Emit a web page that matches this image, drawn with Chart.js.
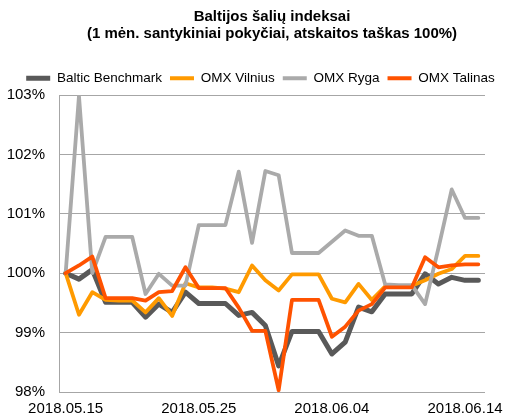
<!DOCTYPE html>
<html>
<head>
<meta charset="utf-8">
<script src="https://cdn.jsdelivr.net/npm/chart.js@4/dist/chart.umd.min.js"></script>
<style>
  html, body { margin: 0; padding: 0; background: #fff; }
  #wrap { width: 507px; height: 419px; position: relative; }
</style>
</head>
<body>
<div id="wrap"><canvas id="chart"></canvas></div>
<script>
const titleLines = ['Baltijos šalių indeksai', '(1 mėn. santykiniai pokyčiai, atskaitos taškas 100%)'];

const dates = [
  '2018.05.15', '2018.05.16', '2018.05.17', '2018.05.18', '2018.05.19', '2018.05.20', '2018.05.21', '2018.05.22',
  '2018.05.23', '2018.05.24', '2018.05.25', '2018.05.26', '2018.05.27', '2018.05.28', '2018.05.29', '2018.05.30',
  '2018.05.31', '2018.06.01', '2018.06.02', '2018.06.03', '2018.06.04', '2018.06.05', '2018.06.06', '2018.06.07',
  '2018.06.08', '2018.06.09', '2018.06.10', '2018.06.11', '2018.06.12', '2018.06.13', '2018.06.14', '2018.06.15'
];
const tickDates = ['2018.05.15', '2018.05.25', '2018.06.04', '2018.06.14'];
const yTicks = [98, 99, 100, 101, 102, 103];

const balticBenchmark = [100, 99.90, 100.06, 99.51, 99.51, 99.51, 99.26, 99.48, 99.34, 99.68, 99.49, 99.49, 99.49, 99.29, 99.34, 99.12,
  98.44, 99.02, 99.02, 99.02, 98.64, 98.84, 99.43, 99.35, 99.65, 99.65, 99.65, 99.99, 99.82, 99.93, 99.88, 99.88];
const omxVilnius = [100, 99.30, 99.68, 99.55, 99.54, 99.54, 99.34, 99.58, 99.28, 99.83, 99.76, 99.76, 99.74, 99.68, 100.13, 99.88,
  99.71, 99.98, 99.98, 99.98, 99.57, 99.51, 99.82, 99.55, 99.78, 99.78, 99.79, 99.88, 99.99, 100.07, 100.29, 100.29];
const omxRyga = [100, 102.98, 100.0, 100.61, 100.61, 100.61, 99.65, 99.99, 99.79, 99.79, 100.81, 100.81, 100.81, 101.71, 100.51, 101.72,
  101.65, 100.34, 100.34, 100.34, 100.53, 100.72, 100.63, 100.63, 99.81, 99.80, 99.80, 99.48, 100.42, 101.41, 100.93, 100.93];
const omxTalinas = [100, 100.13, 100.28, 99.58, 99.58, 99.58, 99.54, 99.68, 99.70, 100.10, 99.75, 99.75, 99.75, 99.42, 99.03, 99.03,
  98.03, 99.55, 99.55, 99.55, 98.93, 99.10, 99.37, 99.48, 99.76, 99.76, 99.76, 100.27, 100.10, 100.13, 100.15, 100.15];

const FONT = '"Liberation Sans", Arial, sans-serif';

// title centred over the plot area, like the original
const titlePlugin = {
  id: 'plotTitle',
  afterLayout(chart) {
    // legend sits a little right of the canvas centre in the original
    chart.legend.left += 7;
    chart.legend.right += 7;
  },
  afterDraw(chart) {
    const ctx = chart.ctx;
    const area = chart.chartArea;
    const cx = (area.left + area.right) / 2;
    ctx.save();
    ctx.font = 'bold 15px ' + FONT;
    ctx.fillStyle = '#000';
    ctx.textAlign = 'center';
    ctx.textBaseline = 'middle';
    titleLines.forEach((line, i) => ctx.fillText(line, cx, 17 + i * 17));
    ctx.restore();
  }
};

function series(label, data, color, width, order) {
  return {
    label: label,
    data: data,
    borderColor: color,
    backgroundColor: color,
    borderWidth: width,
    pointRadius: 0,
    pointHoverRadius: 0,
    tension: 0,
    borderJoinStyle: 'round',
    borderCapStyle: 'round',
    order: order
  };
}

new Chart(document.getElementById('chart'), {
  type: 'line',
  data: {
    labels: dates,
    datasets: [
      series('Baltic Benchmark', balticBenchmark, '#595959', 5, 3),
      series('OMX Vilnius', omxVilnius, '#ff9a00', 3.8, 2),
      series('OMX Ryga', omxRyga, '#aaaaaa', 3.8, 1),
      series('OMX Talinas', omxTalinas, '#ff5200', 3.8, 0)
    ]
  },
  options: {
    responsive: true,
    maintainAspectRatio: false,
    animation: false,
    layout: { padding: { top: 53, left: 0, right: 0, bottom: 0 } },
    plugins: {
      title: { display: false },
      tooltip: { enabled: false },
      legend: {
        display: true,
        position: 'top',
        labels: {
          usePointStyle: true,
          pointStyle: 'line',
          pointStyleWidth: 24,
          boxHeight: 5,
          padding: 8,
          color: '#000',
          font: { family: FONT, size: 13.5 },
          sort: (a, b) => a.datasetIndex - b.datasetIndex
        }
      }
    },
    scales: {
      x: {
        type: 'category',
        offset: true,
        grid: { display: false, drawTicks: false },
        border: { display: false },
        afterFit: (axis) => { axis.paddingLeft = 0; axis.paddingRight = 22; axis.height = 27; },
        ticks: {
          autoSkip: false,
          maxRotation: 0,
          padding: 8,
          color: '#000',
          font: { family: FONT, size: 15 },
          callback: function(value, index) {
            const d = dates[index];
            return tickDates.includes(d) ? d : '';
          }
        }
      },
      y: {
        min: yTicks[0],
        max: yTicks[yTicks.length - 1],
        afterBuildTicks: (axis) => { axis.ticks = yTicks.map(v => ({ value: v })); },
        afterFit: (axis) => { axis.width = 59; axis.paddingTop = 95; },
        grid: { color: '#a6a6a6', lineWidth: 1, drawTicks: false },
        border: { display: true, color: '#a6a6a6', width: 1 },
        ticks: {
          padding: 14,
          color: '#000',
          font: { family: FONT, size: 15 },
          callback: (v) => v + '%'
        }
      }
    }
  },
  plugins: [titlePlugin]
});
</script>
</body>
</html>
